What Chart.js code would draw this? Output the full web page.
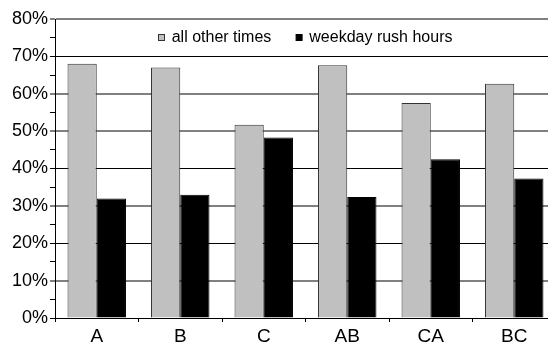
<!DOCTYPE html>
<html><head><meta charset="utf-8">
<style>
html,body{margin:0;padding:0;overflow:hidden;background:#fff;width:548px;height:342px}
#wrap{position:absolute;left:0;top:0;width:560px;height:360px}
</style>
<script src="https://cdn.jsdelivr.net/npm/chart.js@4"></script>
</head><body><div id="wrap"><canvas id="c"></canvas></div>
<script>
const categories = ['A', 'B', 'C', 'AB', 'CA', 'BC'];
const allOtherTimes = [68.0, 67.0, 51.7, 67.6, 57.5, 62.7];
const weekdayRushHours = [32.0, 33.0, 48.3, 32.4, 42.5, 37.3];
const seriesNames = ['all other times', 'weekday rush hours'];
const yMin = 0, yMax = 80, yMajorStep = 10, yMinorStep = 5;

const FONT = '"Liberation Sans", Arial, Helvetica, sans-serif';
const softLines = [10, 30, 50, 60, 80];

const insideLegend = {
  id: 'insideLegend',
  afterDraw(chart) {
    const {ctx, chartArea} = chart;
    ctx.save();
    ctx.font = '16px ' + FONT;
    ctx.textBaseline = 'middle';
    ctx.textAlign = 'left';
    let x = chartArea.left + 103;
    const y = chartArea.top + 18.5;
    chart.data.datasets.forEach(ds => {
      ctx.fillStyle = ds.backgroundColor;
      ctx.fillRect(x + 0.5, y - 3, 6, 6);
      ctx.strokeStyle = ds.borderColor;
      ctx.lineWidth = 1;
      ctx.strokeRect(x + 0.5, y - 3, 6, 6);
      ctx.fillStyle = '#000';
      ctx.fillText(ds.label, x + 13.7, y + 0.5);
      x += 13.7 + ctx.measureText(ds.label).width + 24.3;
    });
    ctx.restore();
  }
};

new Chart(document.getElementById('c'), {
  type: 'bar',
  data: {
    labels: categories,
    datasets: [
      { label: seriesNames[0], data: allOtherTimes, backgroundColor: '#c0c0c0', borderColor: '#333', borderWidth: 1 },
      { label: seriesNames[1], data: weekdayRushHours, backgroundColor: '#000000', borderColor: '#000', borderWidth: 1 }
    ]
  },
  options: {
    responsive: true,
    maintainAspectRatio: false,
    animation: false,
    devicePixelRatio: 1,
    layout: { padding: { top: 19, right: 4, left: 0, bottom: 0 } },
    datasets: { bar: { categoryPercentage: 0.70, barPercentage: 1.0 } },
    plugins: { legend: { display: false }, tooltip: { enabled: false } },
    scales: {
      x: {
        afterFit: s => { s.height = 42; },
        grid: { drawOnChartArea: false, drawTicks: true, tickLength: 4, offset: true, tickColor: '#000', tickWidth: 1 },
        border: { display: true, color: '#000', width: 1 },
        ticks: { color: '#000', font: { family: FONT, size: 19 }, padding: 3, maxRotation: 0, autoSkip: false }
      },
      y: {
        min: yMin, max: yMax,
        afterFit: s => { s.width = 55; },
        grid: {
          color: c => (c.tick.value % yMajorStep !== 0) ? 'rgba(0,0,0,0)' : (softLines.includes(c.tick.value) ? '#808080' : '#000'),
          lineWidth: c => softLines.includes(c.tick.value) ? 2 : 1,
          tickColor: '#000', tickWidth: 1, tickLength: 5, drawTicks: true
        },
        border: { display: true, color: '#000', width: 1 },
        ticks: {
          stepSize: yMinorStep, autoSkip: false, color: '#000', padding: 2,
          font: { family: FONT, size: 18 },
          callback: v => (v % yMajorStep === 0) ? v + '%' : ''
        }
      }
    }
  },
  plugins: [insideLegend]
});
</script>
</body></html>
